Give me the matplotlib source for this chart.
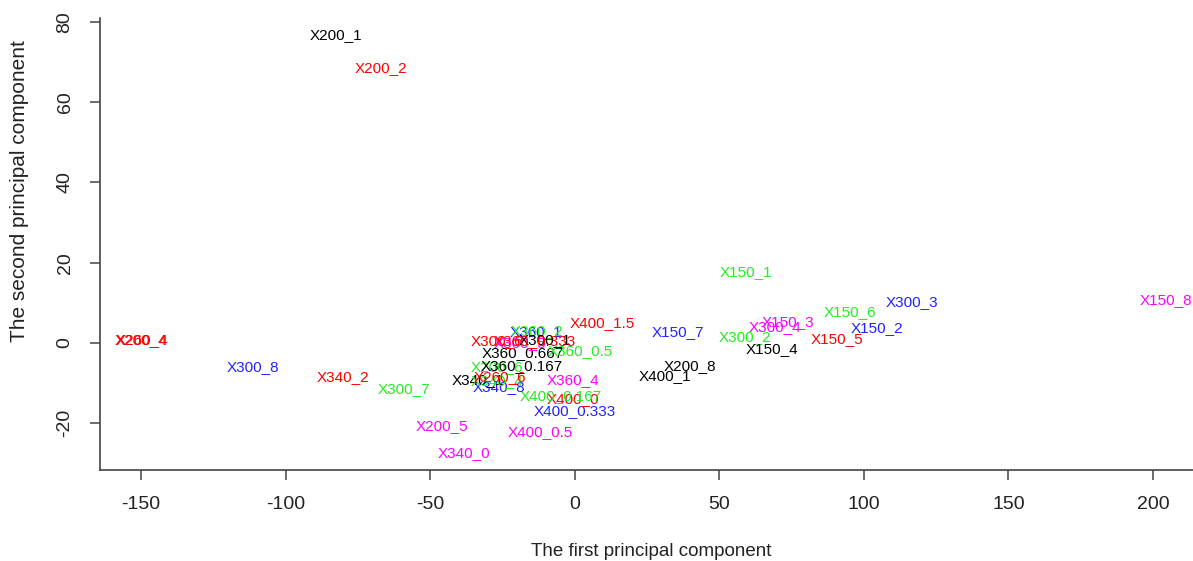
import matplotlib
matplotlib.use("Agg")
import matplotlib.pyplot as plt

# ---- data ----
labels = ["X200_1", "X200_2", "X200_4", "X260_4", "X300_8", "X340_2", "X300_7",
          "X200_5", "X340_0", "X400_0.5", "X400_0.333", "X400_0", "X400_0.167",
          "X360_4", "X340_8", "X340_1", "X340_4", "X200_6", "X260_6",
          "X360_0.167", "X360_0.667", "X360_0.5", "X360_1", "X360_2",
          "X300_6", "X300_5", "X300_1", "X360_0.333", "X400_1.5",
          "X150_1", "X300_3", "X150_6", "X150_3", "X300_4", "X150_2", "X150_7",
          "X300_2", "X150_5", "X150_4", "X200_8", "X400_1", "X150_8"]
pc1 = [-82.6, -67.0, -150.0, -149.6, -111.3, -80.2, -59.0,
       -45.9, -38.3, -12.0, 0.1, -0.6, -5.0,
       -0.6, -26.2, -33.4, -26.8, -26.9, -25.8,
       -18.2, -17.9, 1.8, -13.4, -13.0,
       -26.8, -18.9, -10.3, -13.7, 9.4,
       59.3, 116.7, 95.3, 73.8, 69.3, 104.6, 35.7,
       58.9, 90.7, 68.3, 39.9, 31.2, 204.5]
pc2 = [76.8, 68.6, 0.6, 0.6, -6.1, -8.6, -11.6,
       -20.8, -27.5, -22.3, -17.0, -14.0, -13.3,
       -9.3, -11.1, -9.3, -9.6, -5.9, -8.6,
       -5.8, -2.6, -2.1, 2.6, 2.9,
       0.4, -0.1, 0.6, 0.4, 4.9,
       17.6, 10.1, 7.6, 5.1, 3.9, 3.6, 2.6,
       1.4, 0.9, -1.6, -5.8, -8.3, 10.8]
groups = [1, 2, 2, 2, 4, 2, 3,
          5, 5, 5, 4, 2, 3,
          5, 4, 1, 3, 3, 2,
          1, 1, 3, 4, 3,
          2, 5, 1, 2, 2,
          3, 4, 3, 5, 5, 4, 4,
          3, 2, 1, 1, 1, 5]
x_ticks = [-150, -100, -50, 0, 50, 100, 150, 200]
y_ticks = [-20, 0, 20, 40, 60, 80]

palette = {1: "#000000", 2: "#FF0000", 3: "#22EE22", 4: "#2222FF", 5: "#FF00FF"}

W, H = 1193, 561
fig = plt.figure(figsize=(W / 100, H / 100), dpi=100)
left_px, right_px, top_px, bot_px = 100.0, 1207.0, 18.0, 470.0
ax = fig.add_axes([left_px / W, 1 - bot_px / H, (right_px - left_px) / W, (bot_px - top_px) / H])

plt.rcParams["font.family"] = ["Liberation Sans", "DejaVu Sans"]

for lab, x, y, g in zip(labels, pc1, pc2, groups):
    ax.text(x, y, lab, color=palette[g], fontsize=11, ha="center", va="center",
            family=["Liberation Sans", "DejaVu Sans"], clip_on=False)

xmin, xmax = min(pc1), max(pc1)
ymin, ymax = min(pc2), max(pc2)
dx, dy = (xmax - xmin) * 0.04, (ymax - ymin) * 0.04
ax.set_xlim(xmin - dx, xmax + dx)
ax.set_ylim(ymin - dy, ymax + dy)

ax.set_xticks(x_ticks)
ax.set_yticks(y_ticks)
ax.set_xticklabels([str(v) for v in x_ticks], family="Liberation Sans", fontsize=14, color="#222222")
ax.set_yticklabels([str(v) for v in y_ticks], family="Liberation Sans", fontsize=14, color="#222222",
                   rotation=90, va="center")
ax.tick_params(axis="x", direction="out", length=7, width=1.1, color="#444444", pad=12)
ax.tick_params(axis="y", direction="out", length=7, width=1.1, color="#444444", pad=12)

for s in ["top", "right"]:
    ax.spines[s].set_visible(False)
for s in ["left", "bottom"]:
    ax.spines[s].set_color("#444444")
    ax.spines[s].set_linewidth(1.2)

fig.text(651 / W, 1 - 551 / H, "The first principal component", ha="center", va="center",
         fontsize=13.5, family="Liberation Sans", color="#222222")
fig.text(20 / W, 1 - 191 / H, "The second principal component", ha="center", va="center",
         rotation=90, fontsize=15, family="Liberation Sans", color="#222222")

fig.savefig("out.png", dpi=100)
